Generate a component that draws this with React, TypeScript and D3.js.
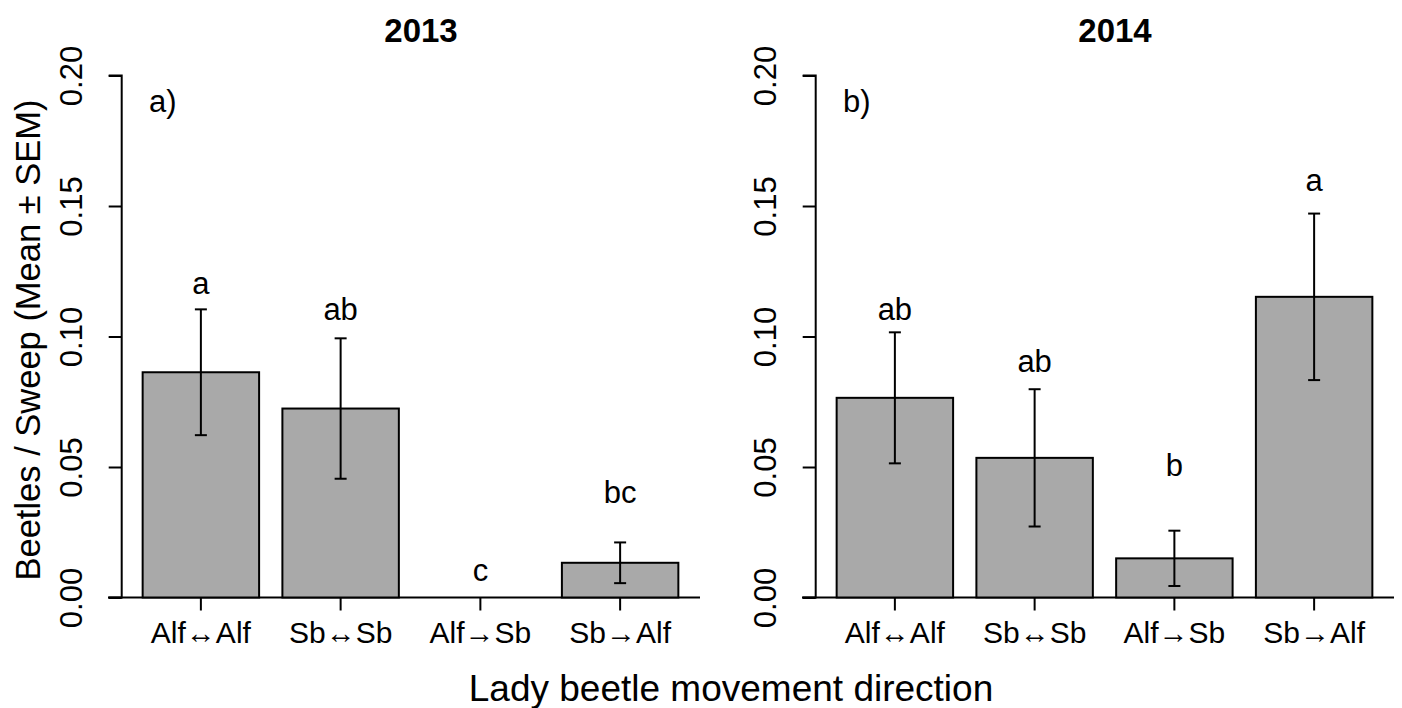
import React, { useEffect, useRef } from 'react';
import * as d3 from 'd3';

const categories = ['Alf↔Alf', 'Sb↔Sb', 'Alf→Sb', 'Sb→Alf'];

const means2013 = [0.0863, 0.0724, 0, 0.0133];
const sem2013 = [0.0241, 0.0269, 0, 0.0078];
const letters2013 = ['a', 'ab', 'c', 'bc'];
const letterY2013 = [0.1163, 0.1063, 0.0064, 0.0361];

const means2014 = [0.0765, 0.0535, 0.015, 0.1152];
const sem2014 = [0.0251, 0.0263, 0.0106, 0.0319];
const letters2014 = ['ab', 'ab', 'b', 'a'];
const letterY2014 = [0.1063, 0.0863, 0.0466, 0.1558];

const yTicks = [0, 0.05, 0.1, 0.15, 0.2];

const panels = [
  { title: '2013', tag: 'a)', means: means2013, sem: sem2013, letters: letters2013, letterY: letterY2013, dx: 0 },
  { title: '2014', tag: 'b)', means: means2014, sem: sem2014, letters: letters2014, letterY: letterY2014, dx: 694 },
];

const width = 1402;
const height = 708;
const font = '"Liberation Sans", Arial, sans-serif';

function App() {
  const ref = useRef(null);

  useEffect(() => {
    drawChart();
  }, []);

  function drawChart() {
    const svg = d3.select(ref.current);
    svg.selectAll('*').remove();

    const y = d3.scaleLinear().domain([0, 0.2]).range([597.5, 75.5]);

    panels.forEach((p) => {
      const g = svg.append('g').attr('transform', `translate(${p.dx},0)`);

      const x = d3
        .scaleBand()
        .domain(categories)
        .range([131, 690])
        .paddingInner(1 / 6)
        .paddingOuter(1 / 12);

      // baseline
      g.append('line')
        .attr('x1', 108).attr('x2', 700)
        .attr('y1', y(0)).attr('y2', y(0))
        .attr('stroke', '#000').attr('stroke-width', 2);

      // bars
      g.selectAll('rect.bar')
        .data(categories.filter((_, i) => p.means[i] > 0))
        .enter()
        .append('rect')
        .attr('class', 'bar')
        .attr('x', (c) => x(c))
        .attr('width', x.bandwidth())
        .attr('y', (c) => y(p.means[categories.indexOf(c)]))
        .attr('height', (c) => y(0) - y(p.means[categories.indexOf(c)]))
        .attr('fill', '#a9a9a9')
        .attr('stroke', '#000')
        .attr('stroke-width', 2);

      // error bars
      categories.forEach((c, i) => {
        if (p.sem[i] <= 0) return;
        const cx = x(c) + x.bandwidth() / 2;
        const lo = y(p.means[i] - p.sem[i]);
        const hi = y(p.means[i] + p.sem[i]);
        g.append('line').attr('x1', cx).attr('x2', cx).attr('y1', lo).attr('y2', hi)
          .attr('stroke', '#000').attr('stroke-width', 2);
        [lo, hi].forEach((yy) => {
          g.append('line').attr('x1', cx - 6).attr('x2', cx + 6).attr('y1', yy).attr('y2', yy)
            .attr('stroke', '#000').attr('stroke-width', 2);
        });
      });

      // significance letters
      g.selectAll('text.letter')
        .data(categories)
        .enter()
        .append('text')
        .attr('x', (c) => x(c) + x.bandwidth() / 2)
        .attr('y', (_, i) => y(p.letterY[i]))
        .attr('text-anchor', 'middle')
        .style('font-family', font)
        .style('font-size', '31px')
        .text((_, i) => p.letters[i]);

      // x axis ticks and labels
      const xAxis = d3.axisBottom(x).tickSize(13).tickSizeOuter(0).tickPadding(11);
      const ax = g.append('g').attr('transform', `translate(0,${y(0)})`).call(xAxis);
      ax.select('.domain').remove();
      ax.selectAll('line').attr('stroke', '#000').attr('stroke-width', 2);
      ax.selectAll('text')
        .style('font-family', font)
        .style('font-size', '30px')
        .attr('fill', '#000');

      // y axis
      const yAxis = d3.axisLeft(y).tickValues(yTicks).tickSize(13).tickFormat(d3.format('.2f'));
      const ay = g.append('g').attr('transform', 'translate(121.7,0)').call(yAxis);
      ay.select('.domain').attr('d', `M-13,${y(0.2)}H0V${y(0)}H-13`).attr('stroke', '#000').attr('stroke-width', 2);
      ay.selectAll('line').attr('stroke', '#000').attr('stroke-width', 2);
      ay.selectAll('text')
        .attr('x', null)
        .attr('dy', null)
        .attr('y', null)
        .attr('text-anchor', 'middle')
        .attr('dominant-baseline', 'central')
        .attr('transform', 'translate(-50,0) rotate(-90)')
        .style('font-family', font)
        .style('font-size', '31px')
        .attr('fill', '#000');

      // panel tag
      g.append('text')
        .attr('x', 149).attr('y', 112)
        .style('font-family', font).style('font-size', '31px')
        .text(p.tag);

      // title
      g.append('text')
        .attr('x', 421).attr('y', 42)
        .attr('text-anchor', 'middle')
        .style('font-family', font).style('font-size', '33px').style('font-weight', 'bold')
        .text(p.title);
    });

    // y axis title
    svg.append('text')
      .attr('transform', 'translate(28,340) rotate(-90)')
      .attr('text-anchor', 'middle')
      .attr('dominant-baseline', 'central')
      .style('font-family', font).style('font-size', '34.5px')
      .text('Beetles / Sweep (Mean ± SEM)');

    // x axis title
    svg.append('text')
      .attr('x', 731).attr('y', 701)
      .attr('text-anchor', 'middle')
      .style('font-family', font).style('font-size', '37px')
      .text('Lady beetle movement direction');
  }

  return (
    <svg
      ref={ref}
      width={width}
      height={height}
      style={{ position: 'absolute', left: 0, top: 0, background: '#fff' }}
    />
  );
}

export default App;
